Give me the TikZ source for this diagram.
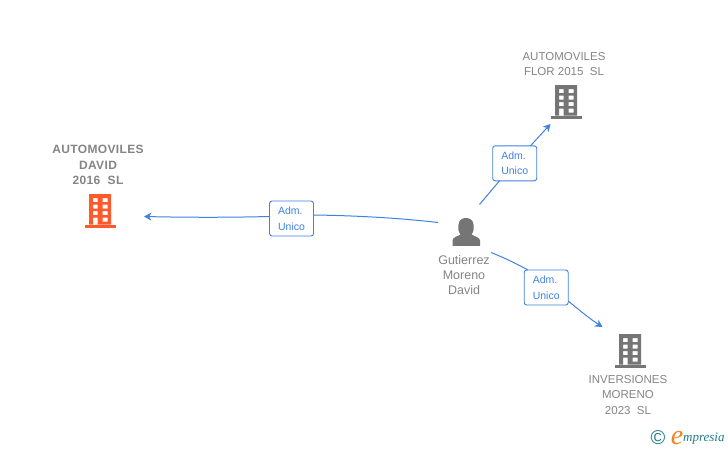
\documentclass[tikz,border=0pt]{standalone}
\usepackage{fontspec}
\setmainfont{Liberation Sans}
\newfontfamily\logofont{Liberation Serif}
\newfontfamily\spacedbold[LetterSpace=3,BoldFont={Liberation Sans Bold}]{Liberation Sans}
\usetikzlibrary{arrows.meta}
\definecolor{linkblue}{HTML}{3F82E0}
\definecolor{labelgrey}{HTML}{858585}
\definecolor{icongrey}{HTML}{757575}
\definecolor{orangeicon}{HTML}{FF5A2B}
\definecolor{logoteal}{HTML}{1F7C8C}
\definecolor{logoorange}{HTML}{F58220}
\tikzset{
  x=1pt,y=-1pt,
  link/.style={draw=linkblue,line width=1pt},
  linkarrow/.style={link,-{Stealth[length=7.5pt,width=8pt]}},
  rolebox/.style={draw=linkblue,line width=0.9pt,fill=white,rounded corners=2.5pt,minimum width=44pt,minimum height=35pt,inner sep=0pt,align=left,text=linkblue,font=\fontsize{10.5}{15.5}\selectfont},
  label/.style={text=labelgrey,align=center,inner sep=0pt,font=\fontsize{11.5}{15.2}\selectfont},
  personlabel/.style={label,font=\fontsize{12.5}{15.2}\selectfont},
  boldlabel/.style={label,font=\spacedbold\fontsize{12}{15.2}\selectfont\bfseries},
  marker/.style={minimum size=34pt,inner sep=0pt},
  pics/building/.style={code={
    \fill[#1,even odd rule]
      (-11,-17) rectangle (11,13.5)
      (-7,-13) rectangle (-2.5,-9) (2.5,-13) rectangle (7.5,-9)
      (-7,-6.5) rectangle (-2.5,-2.5) (2.5,-6.5) rectangle (7.5,-2.5)
      (-7,0) rectangle (-2.5,4) (2.5,0) rectangle (7.5,4)
      (-7,6.5) rectangle (-2.5,13.5) (2.5,6.5) rectangle (7.5,10.5);
    \fill[#1] (-15.5,13.5) rectangle (16,17);
  }},
}
\begin{document}
\begin{tikzpicture}
\useasboundingbox (0,0) rectangle (728,450);
\fill[white] (0,0) rectangle (728,450);

% icons
\node[marker] (david) at (100,211) {};
\pic at (david.center) {building=orangeicon};
\node[marker] (flor) at (566,102) {};
\pic at (flor.center) {building=icongrey};
\node[marker] (inver) at (630,351) {};
\pic at (inver.center) {building=icongrey};

\node[marker] (person) at (466,232) {};
\fill[icongrey] (452.5,245.8) -- (452.5,240.5)
  .. controls (452.5,237.5) and (457,236.5) .. (460.5,234.5)
  .. controls (458,231.5) and (458,228) .. (458.5,224.5)
  .. controls (459,220) and (462,218) .. (466,218)
  .. controls (470,218) and (473,220) .. (473.5,224.5)
  .. controls (474,228) and (474,231.5) .. (471.5,234.5)
  .. controls (475,236.5) and (480,237.5) .. (480,240.5)
  -- (480,245.8) -- cycle;

% labels
\node[boldlabel] (davidtxt) at (98,165) {AUTOMOVILES\\DAVID\\2016\ \ SL};
\node[label] (flortxt) at (564,64) {AUTOMOVILES\\FLOR 2015\ \ SL};
\node[label] (invertxt) at (628,395) {INVERSIONES\\MORENO\\2023\ \ SL};
\node[personlabel] (persontxt) at (464,275) {Gutierrez\\Moreno\\David};

% role boxes
\node[rolebox] (r1) at (291.5,218.5) {Adm.\\Unico};
\node[rolebox] (r2) at (514.7,163.3) {Adm.\\Unico};
\node[rolebox] (r3) at (546.2,287.5) {Adm.\\Unico};

% connector ends
\coordinate (p1) at (438,222.5);
\coordinate (p2) at (479.5,204.5);
\coordinate (p3) at (491,252.5);
\coordinate (e1) at (144,216.5);
\coordinate (e2) at (550.5,124);
\coordinate (e3) at (602.5,327);

% connectors
\draw[link] (p1) .. controls (395,217.5) and (350,215.5) .. (r1.east |- 0,215);
\draw[linkarrow] (r1.west |- 0,216.5) .. controls (230,217.5) and (190,217.5) .. (e1);
\draw[link] (p2) -- (499.5,180.8);
\draw[linkarrow] (530.5,145.8) -- (e2);
\draw[link] (p3) .. controls (505,258) and (517,264) .. (528,270);
\draw[linkarrow] (568.2,301) .. controls (578,309) and (590,319) .. (e3);

% logo
\node[text=logoteal,inner sep=0pt,font=\fontsize{20}{20}\selectfont] (copy) at (658,437.5) {©};
\node[text=logoorange,inner sep=0pt,font=\logofont\itshape\fontsize{28}{28}\selectfont] (elogo) at (677,438) {e};
\node[text=logoteal,anchor=west,inner sep=0pt,font=\logofont\itshape\fontsize{13}{13}\selectfont] (brand) at (683,439) {mpresia};
\end{tikzpicture}
\end{document}
